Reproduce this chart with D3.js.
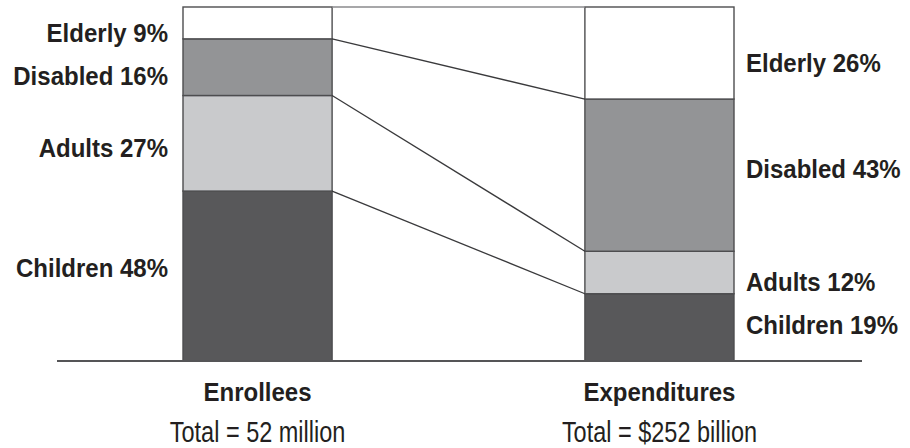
<!DOCTYPE html>
<html>
<head>
<meta charset="utf-8">
<script src="https://cdn.jsdelivr.net/npm/d3@7"></script>
<style>
  html, body { margin: 0; padding: 0; background: #fff; }
  svg { display: block; }
  .lbl { font-family: "Liberation Sans", Arial, sans-serif; font-weight: bold; font-size: 25px; fill: #231f20; }
  .tot { font-family: "Liberation Sans", Arial, sans-serif; font-size: 29px; fill: #231f20; }
</style>
</head>
<body>
<svg id="chart" width="910" height="448"></svg>
<script>
// ---- data ----
const groups = ["Enrollees", "Expenditures"];
const groupTotals = ["Total = 52 million", "Total = $252 billion"];
const segments = ["Children", "Adults", "Disabled", "Elderly"];
const enrolleesPct = [48, 27, 16, 9];
const expendituresPct = [19, 12, 43, 26];

// ---- layout / style constants ----
const colors = { Children: "#58585a", Adults: "#c9cacc", Disabled: "#939496", Elderly: "#ffffff" };
// vertical nudge (px) of each label from its segment's middle, per group, in segment order
const labelShift = [[-8, 5, 9, 10], [-2, 10, -6, 10]];
const boldSquash = 0.96, totSquash = 0.81;

const rows = groups.map((g, gi) => {
  const vals = gi === 0 ? enrolleesPct : expendituresPct;
  const r = { group: g };
  segments.forEach((s, i) => r[s] = vals[i]);
  return r;
});
const stacked = d3.stack().keys(segments)(rows);

const x = d3.scaleBand().domain(groups).range([183, 734]).paddingInner(0.629).paddingOuter(0);
const y = d3.scaleLinear().domain([0, 100]).range([361, 7]);

const svg = d3.select("#chart");

// bars
stacked.forEach((layer) => {
  svg.append("g").selectAll("rect").data(layer).join("rect")
    .attr("x", d => x(d.data.group))
    .attr("y", d => y(d[1]))
    .attr("width", x.bandwidth())
    .attr("height", d => y(d[0]) - y(d[1]))
    .attr("fill", colors[layer.key])
    .attr("stroke", "#4d4d4f")
    .attr("stroke-width", 1.4);
});

// connectors between the bars at each cumulative boundary
const bounds = stacked.map(layer => ({ key: layer.key, l: layer[0][1], r: layer[1][1] }));
svg.append("g").selectAll("line").data(bounds).join("line")
  .attr("x1", x(groups[0]) + x.bandwidth())
  .attr("x2", x(groups[1]))
  .attr("y1", d => y(d.l))
  .attr("y2", d => y(d.r))
  .attr("stroke", d => d.key === "Elderly" ? "#8a8a8c" : "#3a3a3c")
  .attr("stroke-width", d => d.key === "Elderly" ? 1.4 : 1.3);

// baseline
svg.append("line")
  .attr("x1", 57).attr("x2", 862)
  .attr("y1", y(0)).attr("y2", y(0))
  .attr("stroke", "#555557").attr("stroke-width", 2);

function putText(cls, tx, ty, anchor, sx, str, dy) {
  svg.append("text").attr("class", cls)
    .attr("transform", `translate(${tx},${ty}) scale(${sx},1)`)
    .attr("dy", dy || 0)
    .attr("text-anchor", anchor)
    .text(str);
}

// segment labels
groups.forEach((g, gi) => {
  const left = gi === 0;
  stacked.forEach((layer, si) => {
    const d = layer[gi];
    putText("lbl",
      left ? x(g) - 15 : x(g) + x.bandwidth() + 12,
      y((d[0] + d[1]) / 2) + labelShift[gi][si],
      left ? "end" : "start", boldSquash,
      `${layer.key} ${d[1] - d[0]}%`, "0.35em");
  });
});

// group names and totals
groups.forEach((g, i) => {
  const cx = x(g) + x.bandwidth() / 2;
  putText("lbl", cx, 401, "middle", boldSquash, g);
  putText("tot", cx, 442, "middle", totSquash, groupTotals[i]);
});
</script>
</body>
</html>
